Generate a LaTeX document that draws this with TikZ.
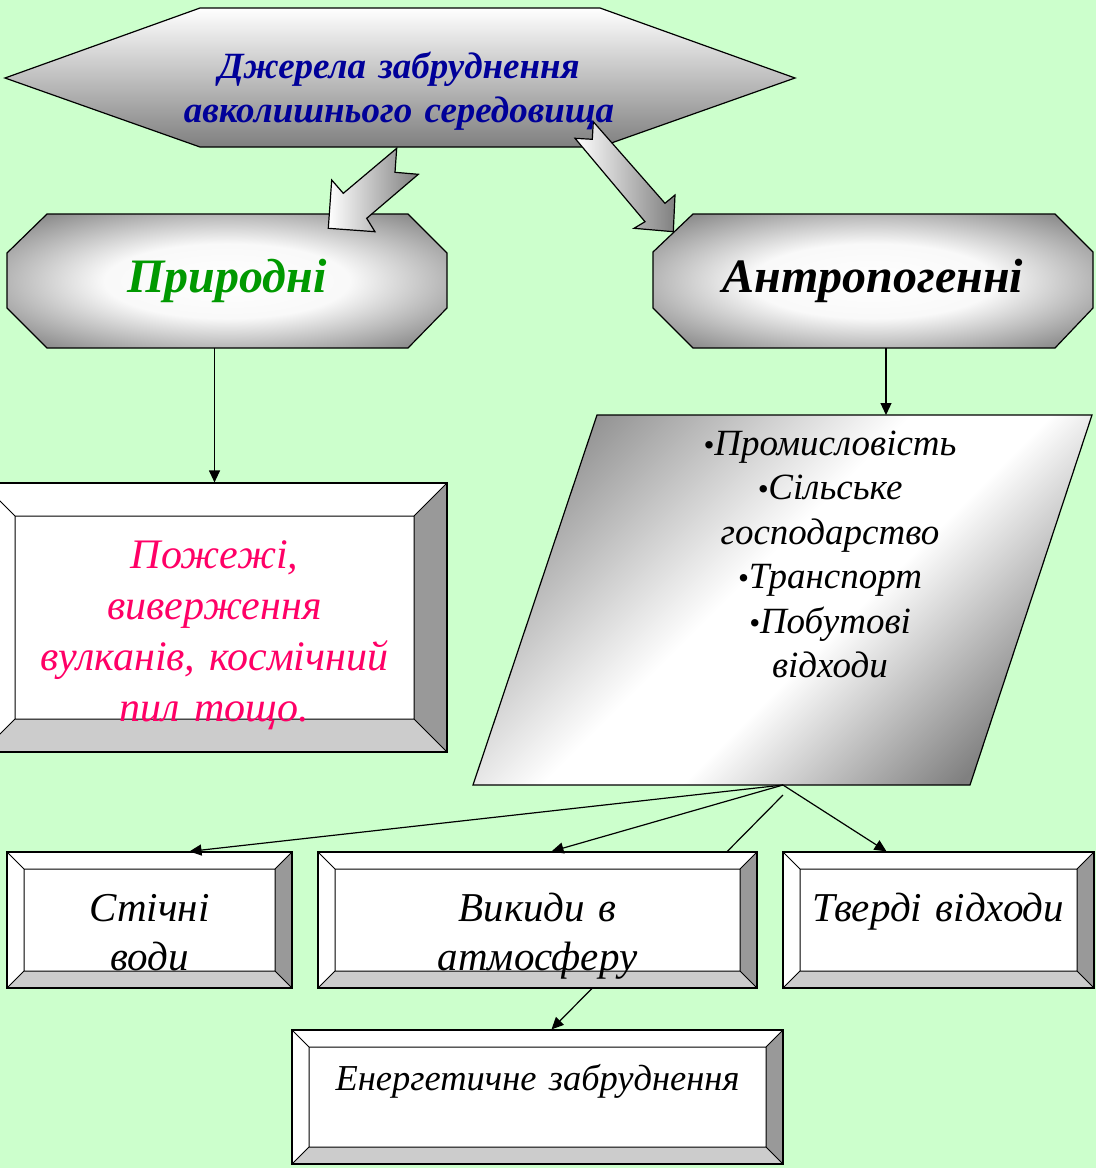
\documentclass[tikz,border=0pt]{standalone}
\usepackage{fontspec}
\setmainfont{Liberation Serif}
\usetikzlibrary{arrows.meta,calc}
\definecolor{bggreen}{HTML}{CCFFCC}
\definecolor{titleblue}{HTML}{000099}
\definecolor{natgreen}{HTML}{009900}
\definecolor{firepink}{HTML}{FF0066}
\definecolor{bevelright}{HTML}{999999}
\definecolor{bevelbottom}{HTML}{CCCCCC}
\pgfdeclareradialshading{glow}{\pgfpoint{0bp}{0bp}}{color(0bp)=(white); color(14bp)=(white!95!gray); color(34bp)=(gray); color(100bp)=(gray)}
\pgfdeclareverticalshading{sheen}{100bp}{color(0bp)=(gray); color(24bp)=(gray); color(44bp)=(white); color(54bp)=(white); color(78bp)=(gray!90); color(100bp)=(gray!90)}
\newcommand{\itemdot}{{\fontsize{31}{31}\selectfont •}}
\tikzset{
  bevel/.style={draw, line width=1.2pt, fill=white, inner sep=0pt,
    path picture={
      \path (path picture bounding box.north west) coordinate (bnw)
            (path picture bounding box.north east) coordinate (bne)
            (path picture bounding box.south east) coordinate (bse)
            (path picture bounding box.south west) coordinate (bsw);
      \path ([shift={(#1pt,-#1pt)}]bnw) coordinate (inw)
            ([shift={(-#1pt,-#1pt)}]bne) coordinate (ine)
            ([shift={(-#1pt,#1pt)}]bse) coordinate (ise)
            ([shift={(#1pt,#1pt)}]bsw) coordinate (isw);
      \fill[bevelright] (bne) -- (bse) -- (ise) -- (ine) -- cycle;
      \fill[bevelbottom] (bsw) -- (bse) -- (ise) -- (isw) -- cycle;
      \draw[line width=1pt] (inw) rectangle (ise) (bnw) -- (inw) (bne) -- (ine)
            (bse) -- (ise) (bsw) -- (isw);
    }},
  octa/.style={draw, line width=1.2pt, shade, shading=glow},
  octatext/.style={minimum width=440pt, minimum height=134pt, inner sep=0pt,
    font=\fontsize{48}{56}\selectfont\bfseries\itshape},
  blockarrow/.style={draw, line width=1.2pt, left color=white, right color=gray},
  con/.style={line width=1.2pt, -{Triangle[length=12pt,width=11pt]}},
  txt/.style={anchor=base, align=center, text width=#1, inner sep=0pt},
}
\begin{document}
\begin{tikzpicture}[x=1pt, y=-1pt]
\useasboundingbox (0,0) rectangle (1096,1168);
\fill[bggreen] (0,0) rectangle (1096,1168);
\clip (0,0) rectangle (1096,1168);
\draw[line width=1.2pt, top color=white, bottom color=gray] (5,78) -- (200,8) -- (600,8) -- (795,78) -- (600,147) -- (200,147) -- cycle;
\draw[octa] (7,253) -- (47,214) -- (408,214) -- (447,253) -- (447,308) -- (408,348) -- (47,348) -- (7,308) -- cycle;
\node[octatext, text=natgreen] (N_1_0) at (227,281) {Природні};
\draw[octa] (653,252) -- (693,214) -- (1055,214) -- (1093,252) -- (1093,308) -- (1055,348) -- (693,348) -- (653,308) -- cycle;
\node[octatext] (N_1_1) at (873,281) {Антропогенні};
\draw[blockarrow] (396.7,148.3) -- (395,172.3) -- (418.3,174.3) -- (366.7,218.3) -- (375,231.7) -- (328.3,228.3) -- (331.7,180) -- (343.3,193.3) -- cycle;
\draw[blockarrow] (593.3,121.7) -- (592.3,139.3) -- (575,138.3) -- (645,221.7) -- (634,228.3) -- (673.3,231.7) -- (675,195) -- (665,203.3) -- cycle;
\node[txt=520pt, text=titleblue, font=\fontsize{37}{44}\selectfont\bfseries\itshape] (N_0_0) at (399,78) {Джерела забруднення\\авколишнього середовища};
\node[bevel=33, minimum width=465pt, minimum height=269pt] (N_2_0) at (214.5,617.5) {};
\node[txt=440pt, text=firepink, font=\fontsize{42}{51}\selectfont\itshape] (T_2_0) at (214.5,568) {Пожежі,\\виверження\\вулканів, космічний\\пил тощо.};
\draw[con] (N_1_0.south -| N_2_0.north) -- (N_2_0.north);
\draw[line width=1.2pt, shade, shading=sheen, shading angle=45] (597,415) -- (1092,415) -- (970,785) -- (473,785) -- cycle;
\coordinate (N_2_1) at (783,785);
\node[txt=420pt, font=\fontsize{37}{44.5}\selectfont\itshape] (T_2_1) at (830,455) {\itemdot Промисловість\\\itemdot Сільське\\господарство\\\itemdot Транспорт\\\itemdot Побутові\\відходи};
\path ($(N_1_1.south)+(13,0)$) coordinate (A_1_1);
\draw[con] (A_1_1) -- (A_1_1 |- 0,415);
\node[bevel=17, minimum width=491pt, minimum height=134pt] (N_4_0) at (537.5,1097) {};
\node[txt=480pt, font=\fontsize{36.5}{40}\selectfont\itshape] (T_4_0) at (537.5,1090) {Енергетичне забруднення};
\coordinate (A_2_1) at ($(N_2_1)+(0,10)$);
\draw[con] (A_2_1) -- ($(N_4_0.north)+(14,0)$);
\node[bevel=17, minimum width=285pt, minimum height=136pt] (N_3_0) at (149.5,920) {};
\node[bevel=17, minimum width=439pt, minimum height=136pt] (N_3_1) at (537.5,920) {};
\node[bevel=17, minimum width=311pt, minimum height=136pt] (N_3_2) at (938.5,920) {};
\node[txt=280pt, font=\fontsize{41}{49}\selectfont\itshape] (T_3_0) at (149.5,921) {Стічні\\води};
\node[txt=420pt, font=\fontsize{41}{49}\selectfont\itshape] (T_3_1) at (537.5,921) {Викиди в\\атмосферу};
\node[txt=310pt, font=\fontsize{41}{49}\selectfont\itshape] (T_3_2) at (938.5,921) {Тверді відходи};
\draw[con] (N_2_1) -- ($(N_3_0.north)+(40,0)$);
\draw[con] (N_2_1) -- ($(N_3_1.north)+(14,0)$);
\draw[con] (N_2_1) -- ($(N_3_2.north)+(-52,0)$);
\end{tikzpicture}
\end{document}
